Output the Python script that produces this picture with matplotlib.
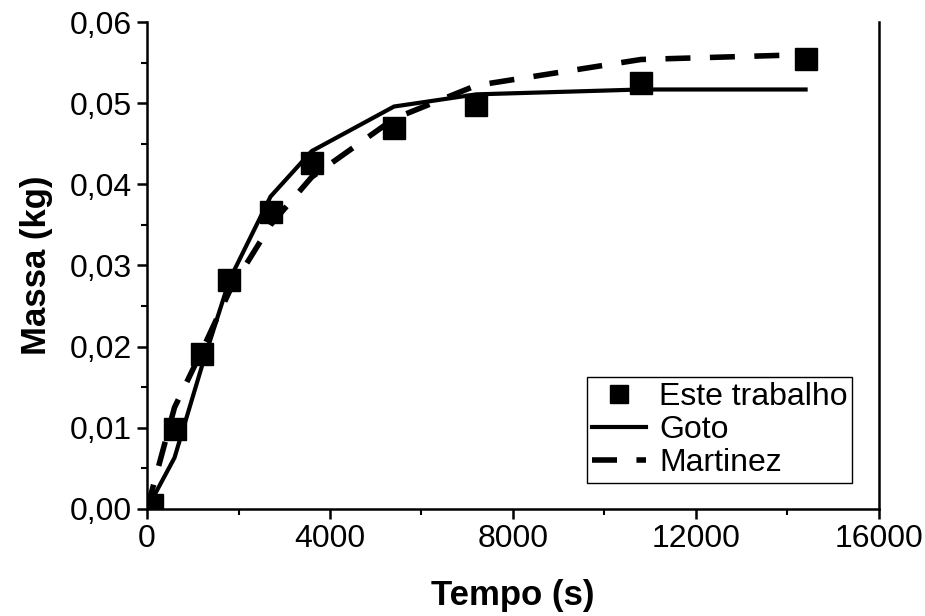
import matplotlib
matplotlib.use("Agg")
import matplotlib.pyplot as plt
from matplotlib.ticker import MultipleLocator, FuncFormatter

plt.rcParams['font.family'] = ['Liberation Sans', 'DejaVu Sans']

# Data
tempo = [100, 600, 1200, 1800, 2700, 3600, 5400, 7200, 10800, 14400]
este_trabalho = [0.0005, 0.0098, 0.0191, 0.0282, 0.0366, 0.0426, 0.0470, 0.0498, 0.0525, 0.0554]

tempo_modelo = [0, 600, 1200, 1800, 2700, 3600, 5400, 7200, 10800, 14400]
goto = [0.0, 0.0063, 0.0176, 0.0282, 0.0385, 0.0441, 0.0496, 0.0511, 0.0517, 0.0517]
martinez = [0.0, 0.0125, 0.0195, 0.0268, 0.0350, 0.0409, 0.0481, 0.0522, 0.0554, 0.0560]

xticks = [0, 4000, 8000, 12000, 16000]

fig = plt.figure(figsize=(9.25, 6.16), dpi=100)
ax = fig.add_axes([0.159, 0.174, 0.791, 0.790])

ax.plot(tempo_modelo, goto, color='black', lw=3.0, solid_joinstyle='miter', label='Goto', zorder=3)
ax.plot(tempo_modelo, martinez, color='black', lw=4.0, dashes=(4.5, 3.5), label='Martinez', zorder=3)
ax.plot(tempo, este_trabalho, linestyle='none', marker='s', ms=16.5, color='black',
        label='Este trabalho', zorder=4)

ax.set_xlim(0, 16000)
ax.set_ylim(0, 0.06)
ax.set_xticks(xticks)
ax.xaxis.set_minor_locator(MultipleLocator(2000))
ax.yaxis.set_major_locator(MultipleLocator(0.01))
ax.yaxis.set_minor_locator(MultipleLocator(0.005))
ax.yaxis.set_major_formatter(FuncFormatter(lambda v, p: f"{v:.2f}".replace('.', ',')))

ax.tick_params(which='major', direction='out', length=7, width=1.8, labelsize=23, pad=4)
ax.tick_params(which='minor', direction='out', length=4, width=1.5)
ax.tick_params(top=False, right=False, which='both')
ax.spines['top'].set_visible(False)
for s in ['left', 'bottom', 'right']:
    ax.spines[s].set_linewidth(1.8)

ax.set_xlabel('Tempo (s)', fontsize=25, fontweight='bold', labelpad=18)
ax.set_ylabel('Massa (kg)', fontsize=25, fontweight='bold', labelpad=12)

handles, labels = ax.get_legend_handles_labels()
order = [2, 0, 1]
leg = ax.legend([handles[i] for i in order], [labels[i] for i in order],
                loc='lower right', bbox_to_anchor=(0.964, 0.053), fontsize=23,
                frameon=True, fancybox=False, edgecolor='black', framealpha=1,
                handlelength=1.7, handletextpad=0.4, labelspacing=0.1,
                borderpad=0.15, borderaxespad=0, markerscale=0.75)
leg.get_frame().set_linewidth(1.0)

fig.savefig('out.png', dpi=100)
